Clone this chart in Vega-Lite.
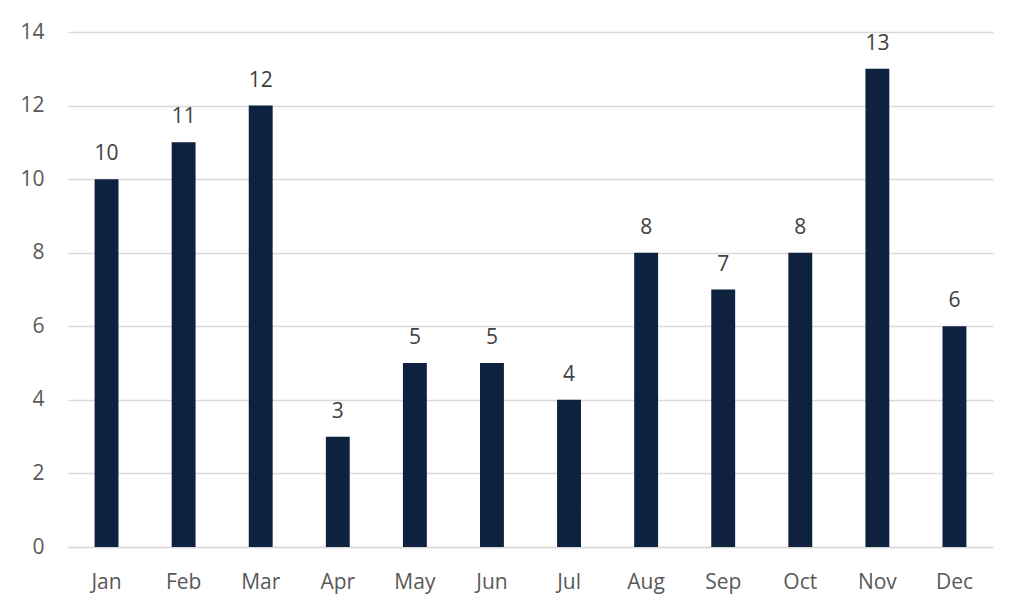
{
  "$schema": "https://vega.github.io/schema/vega-lite/v6.json",
  "width": 925,
  "height": 515,
  "autosize": "none",
  "padding": {"left": 68, "top": 32, "right": 31, "bottom": 68},
  "background": "white",
  "config": {
    "font": "Open Sans",
    "view": {"stroke": null},
    "axis": {
      "labelFont": "Open Sans",
      "labelFontSize": 21,
      "labelColor": "#595959",
      "gridColor": "#d9d9d9",
      "domainColor": "#d9d9d9",
      "ticks": false,
      "title": null
    }
  },
  "data": {
    "values": [
      {"month": "Jan", "count": 10},
      {"month": "Feb", "count": 11},
      {"month": "Mar", "count": 12},
      {"month": "Apr", "count": 3},
      {"month": "May", "count": 5},
      {"month": "Jun", "count": 5},
      {"month": "Jul", "count": 4},
      {"month": "Aug", "count": 8},
      {"month": "Sep", "count": 7},
      {"month": "Oct", "count": 8},
      {"month": "Nov", "count": 13},
      {"month": "Dec", "count": 6}
    ]
  },
  "encoding": {
    "x": {
      "field": "month",
      "type": "nominal",
      "sort": null,
      "scale": {"paddingInner": 0.69, "paddingOuter": 0.345},
      "axis": {"labelAngle": 0, "labelPadding": 24, "labelBaseline": "top", "grid": false, "domainWidth": 1.5}
    },
    "y": {
      "field": "count",
      "type": "quantitative",
      "scale": {"domain": [0, 14]},
      "axis": {"values": [0, 2, 4, 6, 8, 10, 12, 14], "domain": false, "labelPadding": 24, "gridWidth": 1.5}
    }
  },
  "layer": [
    {"mark": {"type": "bar", "color": "#0e2240"}},
    {
      "mark": {"type": "text", "baseline": "alphabetic", "dy": -19, "fontSize": 21, "color": "#404040"},
      "encoding": {"text": {"field": "count", "type": "quantitative"}}
    }
  ]
}
